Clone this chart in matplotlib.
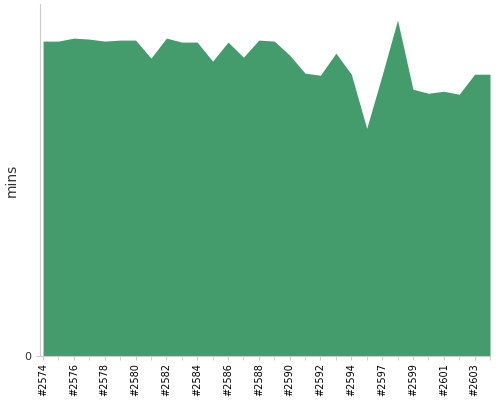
import numpy as np
import matplotlib.pyplot as plt

builds = ['2574', '2575', '2576', '2577', '2578', '2579', '2580', '2581', '2582', '2583',
          '2584', '2585', '2586', '2587', '2588', '2589', '2590', '2591', '2592', '2593',
          '2594', '2596', '2597', '2598', '2599', '2600', '2601', '2602', '2603', '2604']
mins = [31.4, 31.4, 31.7, 31.6, 31.4, 31.5, 31.5, 29.7, 31.7, 31.3,
        31.3, 29.4, 31.3, 29.8, 31.5, 31.4, 30.0, 28.2, 28.0, 30.2,
        28.1, 22.7, 28.0, 33.5, 26.6, 26.2, 26.4, 26.1, 28.1, 28.1]

x = np.arange(len(builds))

fig = plt.figure(figsize=(5, 4), dpi=100)
ax = fig.add_axes([0.08, 0.11, 0.90, 0.88])
ax.fill_between(x, 0, mins, color='#449c6c', linewidth=0)

ax.set_xlim(-0.2, len(builds) - 1)
ax.set_ylim(0, 35.1)
ax.set_yticks([0])
ax.set_yticklabels(['0'], fontsize=8, color='#333333')
ax.set_xticks(x[::2])
ax.set_xticklabels(['#' + b for b in builds[::2]], rotation=90, fontsize=7)
ax.set_xticks(x, minor=True)
ax.tick_params(axis='x', which='both', length=3, color='#cccccc', pad=2)
ax.tick_params(axis='y', length=3, color='#cccccc')
ax.set_ylabel('mins', fontsize=10, color='#333333')

for side in ['top', 'right']:
    ax.spines[side].set_visible(False)
for side in ['left', 'bottom']:
    ax.spines[side].set_color('#cccccc')

fig.savefig('out.png')
